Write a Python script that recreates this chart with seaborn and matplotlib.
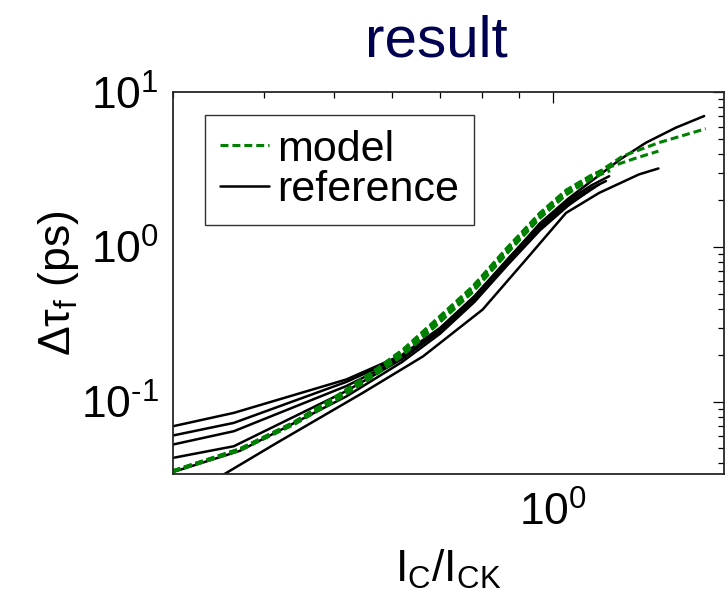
import math
import matplotlib
matplotlib.use("Agg")
import matplotlib.pyplot as plt
from matplotlib.ticker import LogLocator, NullFormatter, FuncFormatter
from matplotlib.lines import Line2D
import seaborn as sns
import pandas as pd

# Reference delay curves (black): normalised collector current vs delta tau_f (ps)
ref_a_x = [0.30, 0.364, 0.52, 0.62, 0.70, 0.78, 0.87, 0.96, 1.05, 1.13, 1.196]
ref_a_y = [0.0692, 0.0845, 0.139, 0.200, 0.300, 0.480, 0.850, 1.40, 2.00, 2.50, 2.87]
ref_b_x = [0.30, 0.364, 0.52, 0.62, 0.70, 0.78, 0.87, 0.96, 1.05, 1.13, 1.184]
ref_b_y = [0.0603, 0.0728, 0.134, 0.195, 0.292, 0.465, 0.82, 1.35, 1.93, 2.40, 2.67]
ref_c_x = [0.30, 0.364, 0.52, 0.62, 0.70, 0.78, 0.87, 0.96, 1.05, 1.13, 1.16]
ref_c_y = [0.0527, 0.0643, 0.126, 0.190, 0.285, 0.455, 0.80, 1.32, 1.88, 2.35, 2.55]
ref_d_x = [0.30, 0.364, 0.52, 0.62, 0.70, 0.78, 0.87, 0.96, 1.05, 1.14, 1.24, 1.343, 1.477, 1.616]
ref_d_y = [0.0432, 0.0514, 0.117, 0.188, 0.290, 0.470, 0.84, 1.42, 2.05, 2.75, 3.70, 4.72, 5.91, 7.03]
ref_e_x = [0.30, 0.371, 0.52, 0.62, 0.70, 0.78, 0.87, 0.96, 1.05, 1.12]
ref_e_y = [0.0350, 0.0480, 0.108, 0.180, 0.275, 0.440, 0.78, 1.28, 1.85, 2.30]
ref_f_x = [0.34, 0.417, 0.548, 0.663, 0.801, 0.919, 1.043, 1.159, 1.315, 1.398]
ref_f_y = [0.0305, 0.054, 0.114, 0.196, 0.394, 0.83, 1.66, 2.24, 2.95, 3.22]

# Model curves (green dashed)
mod_x = [0.30, 0.371, 0.44, 0.509, 0.566, 0.622, 0.699, 0.776, 0.863, 0.959, 1.043, 1.135]
mod_a_x = mod_x + [1.248, 1.40, 1.624]
mod_a_y = [0.0354, 0.0489, 0.0720, 0.108, 0.150, 0.207, 0.339, 0.531, 0.930, 1.583, 2.243, 2.873, 3.87, 4.73, 5.82]
mod_b_x = mod_x + [1.20, 1.30, 1.398]
mod_b_y = [0.0357, 0.0495, 0.0735, 0.112, 0.157, 0.217, 0.356, 0.556, 0.975, 1.650, 2.330, 2.950, 3.30, 3.75, 4.17]
mod_c_x = mod_x + [1.20]
mod_c_y = [0.0352, 0.0484, 0.0708, 0.105, 0.145, 0.199, 0.325, 0.510, 0.895, 1.525, 2.170, 2.800, 3.12]
mod_d_x = mod_x + [1.18]
mod_d_y = [0.0355, 0.0492, 0.0728, 0.110, 0.154, 0.212, 0.348, 0.545, 0.955, 1.620, 2.290, 2.900, 3.08]
mod_e_x = mod_x + [1.16]
mod_e_y = [0.0353, 0.0486, 0.0713, 0.1065, 0.147, 0.203, 0.332, 0.520, 0.912, 1.555, 2.200, 2.830, 2.98]
mod_f_x = mod_x
mod_f_y = [0.0356, 0.0493, 0.0730, 0.111, 0.155, 0.214, 0.352, 0.550, 0.965, 1.635, 2.310, 2.920]

x_ticks = [1.0]
y_ticks = [0.1, 1.0, 10.0]
legend_labels = ["model", "reference"]


def long_form(curves):
    frames = []
    for name, (xs, ys) in curves.items():
        frames.append(pd.DataFrame({"curve": name, "ic": xs, "dtau": ys}))
    return pd.concat(frames, ignore_index=True)


ref_df = long_form({
    "a": (ref_a_x, ref_a_y), "b": (ref_b_x, ref_b_y), "c": (ref_c_x, ref_c_y),
    "d": (ref_d_x, ref_d_y), "e": (ref_e_x, ref_e_y), "f": (ref_f_x, ref_f_y),
})
mod_df = long_form({
    "a": (mod_a_x, mod_a_y), "b": (mod_b_x, mod_b_y), "c": (mod_c_x, mod_c_y),
    "d": (mod_d_x, mod_d_y), "e": (mod_e_x, mod_e_y), "f": (mod_f_x, mod_f_y),
})

sns.set_style("white")
plt.rcParams["font.family"] = ["Liberation Sans", "DejaVu Sans"]
plt.rcParams["mathtext.fontset"] = "custom"
plt.rcParams["mathtext.rm"] = "Liberation Sans"
plt.rcParams["mathtext.it"] = "Liberation Sans:italic"
plt.rcParams["mathtext.default"] = "regular"
for key in ("text.color", "axes.labelcolor", "xtick.color", "ytick.color"):
    plt.rcParams[key] = "black"

FS = 32
GREEN = "#008000"
DASH = (0, (2.6, 1.3))


def decade_label(val, pos):
    exp = int(round(math.log10(val)))
    if exp < 0:
        return r"$\mathregular{10^{\text{-%d}}}$" % (-exp)
    return r"$\mathregular{10^{%d}}$" % exp


fig = plt.figure(figsize=(7.26, 6.0), dpi=100)
ax = fig.add_axes([0.238, 0.21, 0.759, 0.636])
ax.set_xscale("log")
ax.set_yscale("log")

sns.lineplot(data=ref_df, x="ic", y="dtau", units="curve", estimator=None,
             sort=False, color="black", lw=1.8, ax=ax, legend=False)
sns.lineplot(data=mod_df, x="ic", y="dtau", units="curve", estimator=None,
             sort=False, color=GREEN, lw=2.2, linestyle=DASH, ax=ax, legend=False)

ax.set_xticks(x_ticks)
ax.set_yticks(y_ticks)
ax.xaxis.set_minor_locator(LogLocator(base=10, subs=range(2, 10)))
ax.yaxis.set_minor_locator(LogLocator(base=10, subs=range(2, 10)))
ax.xaxis.set_minor_formatter(NullFormatter())
ax.yaxis.set_minor_formatter(NullFormatter())
ax.xaxis.set_major_formatter(FuncFormatter(decade_label))
ax.yaxis.set_major_formatter(FuncFormatter(decade_label))
ax.set_xlim(0.3, 1.72)
ax.set_ylim(0.034, 10)

ax.tick_params(which="both", direction="in", top=True, right=True,
               color="black", labelsize=FS, width=0.9)
ax.tick_params(which="major", length=8)
ax.tick_params(axis="x", which="major", pad=13)
ax.tick_params(axis="y", which="major", pad=10)
ax.tick_params(which="minor", length=4)
for sp in ax.spines.values():
    sp.set_color("#262626")
    sp.set_linewidth(1.3)

ax.set_xlabel(r"$\mathregular{I_C/I_{CK}}$", fontsize=FS, labelpad=9)
ax.set_ylabel(r"$\mathregular{Δτ_f}$ (ps)", fontsize=FS, labelpad=0)
ax.set_title("result", fontsize=42, color="#000050", pad=26, x=0.479)

handles = [Line2D([], [], color=GREEN, lw=2.2, linestyle=DASH),
           Line2D([], [], color="black", lw=1.8)]
leg = ax.legend(handles, legend_labels, loc="upper left",
                bbox_to_anchor=(0.0586, 0.941), borderaxespad=0,
                fontsize=31, handlelength=1.15, handletextpad=0.18,
                labelspacing=0.02, borderpad=0.34, frameon=True, fancybox=False)
leg.get_frame().set_edgecolor("black")
leg.get_frame().set_linewidth(1.0)

fig.savefig("out.png", dpi=100)
